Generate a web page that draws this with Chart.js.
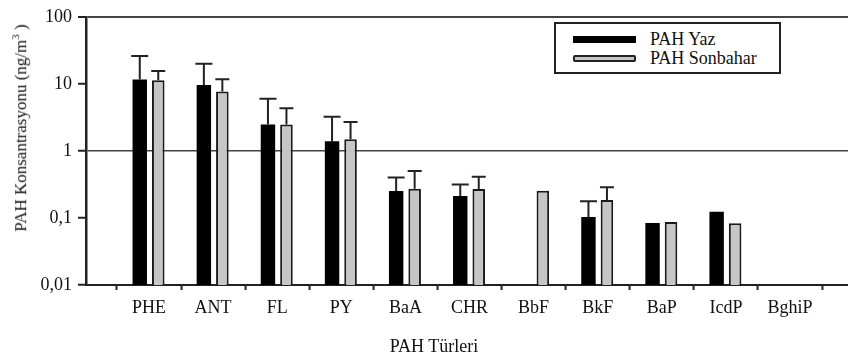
<!DOCTYPE html>
<html>
<head>
<meta charset="utf-8">
<script src="https://cdn.jsdelivr.net/npm/chart.js@4.4.0/dist/chart.umd.min.js"></script>
<style>
  html, body { margin: 0; padding: 0; background: #fff; }
  #wrap { position: relative; width: 848px; height: 360px; font-family: "Liberation Serif", serif; color: #111; }
  #chart { position: absolute; left: 0; top: 0; }
  .ytitle { position: absolute; left: 20px; top: 128px; transform: translate(-50%, -50%) rotate(-90deg); white-space: nowrap; font-size: 17px; }
  .xtitle { position: absolute; left: 434px; top: 346px; transform: translate(-50%, -50%); white-space: nowrap; font-size: 18px; }
  .legend { position: absolute; left: 554px; top: 22px; width: 223px; height: 48px; border: 2px solid #222; background: #fff; }
  .legend .row { position: absolute; left: 17px; height: 20px; display: flex; align-items: center; font-size: 18px; }
  .legend .sw { width: 63px; height: 7px; margin-right: 14px; box-sizing: border-box; }
  .sw.yaz { background: #000; }
  .sw.son { background: #c6c6c6; border: 2px solid #222; border-radius: 2px; }
</style>
</head>
<body>
<div id="wrap">
  <canvas id="chart" width="848" height="360"></canvas>
  <div class="ytitle">PAH Konsantrasyonu (ng/m<sup style="font-size:11px">3</sup> )</div>
  <div class="xtitle">PAH Türleri</div>
  <div class="legend">
    <div class="row" style="top:5px"><span class="sw yaz"></span>PAH Yaz</div>
    <div class="row" style="top:24px"><span class="sw son"></span>PAH Sonbahar</div>
  </div>
</div>
<script>
const CATEGORIES = ["PHE", "ANT", "FL", "PY", "BaA", "CHR", "BbF", "BkF", "BaP", "IcdP", "BghiP"];
const YAZ = [11.6, 9.6, 2.47, 1.39, 0.252, 0.213, null, 0.103, 0.084, 0.124, null];
const YAZ_UPPER = [26, 20, 6.0, 3.24, 0.40, 0.316, null, 0.178, null, null, null];
const SONBAHAR = [11.3, 7.7, 2.47, 1.49, 0.273, 0.27, 0.255, 0.186, 0.087, 0.0835, null];
const SONBAHAR_UPPER = [15.5, 11.7, 4.33, 2.7, 0.50, 0.41, null, 0.286, null, null, null];
const Y_TICKS = [0.01, 0.1, 1, 10, 100];

const FONT = { family: "'Liberation Serif', serif", size: 18 };

// upward-only error bars with caps
const errorBars = {
  id: "errorBars",
  afterDatasetsDraw(chart) {
    const { ctx } = chart;
    const yScale = chart.scales.y;
    [YAZ_UPPER, SONBAHAR_UPPER].forEach((upper, di) => {
      const meta = chart.getDatasetMeta(di);
      const cap = di === 0 ? 8.5 : 7;
      meta.data.forEach((bar, i) => {
        if (upper[i] == null || bar.y == null || isNaN(bar.y)) return;
        const top = yScale.getPixelForValue(upper[i]);
        ctx.save();
        ctx.strokeStyle = "#222";
        ctx.lineWidth = 2;
        ctx.beginPath();
        ctx.moveTo(bar.x, bar.y);
        ctx.lineTo(bar.x, top);
        ctx.moveTo(bar.x - cap, top);
        ctx.lineTo(bar.x + cap, top);
        ctx.stroke();
        ctx.restore();
      });
    });
  },
};

new Chart(document.getElementById("chart"), {
  type: "bar",
  data: {
    datasets: [
      {
        label: "PAH Yaz",
        data: CATEGORIES.map((c, i) => ({ x: i, y: YAZ[i] })),
        backgroundColor: "#000",
        borderWidth: 0,
        categoryPercentage: 0.577,
        barPercentage: 0.78,
      },
      {
        label: "PAH Sonbahar",
        data: CATEGORIES.map((c, i) => ({ x: i, y: SONBAHAR[i] })),
        backgroundColor: "#c6c6c6",
        borderColor: "#1a1a1a",
        borderWidth: 2,
        categoryPercentage: 0.577,
        barPercentage: 0.68,
      },
    ],
  },
  options: {
    responsive: false,
    animation: false,
    layout: { padding: { top: 13, right: 0, left: 0, bottom: 0 } },
    plugins: { legend: { display: false }, tooltip: { enabled: false } },
    scales: {
      x: {
        type: "linear",
        offset: false,
        min: -0.983,
        max: 10.905,
        afterBuildTicks: (s) => { s.ticks = CATEGORIES.map((c, i) => ({ value: i })); },
        afterFit: (s) => { s.height = 75; },
        ticks: {
          font: FONT,
          color: "#111",
          padding: 7,
          maxRotation: 0,
          autoSkip: false,
          callback: (v) => CATEGORIES[v] ?? "",
        },
        grid: { drawOnChartArea: false, tickLength: 5, tickColor: "#222", tickWidth: 2 },
        border: { color: "#222", width: 2 },
      },
      y: {
        type: "logarithmic",
        min: 0.01,
        max: 100,
        afterBuildTicks: (s) => { s.ticks = Y_TICKS.map((v) => ({ value: v })); },
        afterFit: (s) => { s.width = 86; },
        ticks: {
          font: FONT,
          color: "#111",
          padding: 6,
          callback: (v) => String(v).replace(".", ","),
        },
        grid: {
          color: (ctx) => (ctx.tick && (ctx.tick.value === 1 || ctx.tick.value === 100) ? "#444" : "rgba(0,0,0,0)"),
          lineWidth: (ctx) => (ctx.tick && ctx.tick.value === 100 ? 2 : 1.5),
          tickColor: "#222",
          tickLength: 8,
          tickWidth: 2,
        },
        border: { color: "#222", width: 2.5 },
      },
    },
  },
  plugins: [errorBars],
});
</script>
</body>
</html>
